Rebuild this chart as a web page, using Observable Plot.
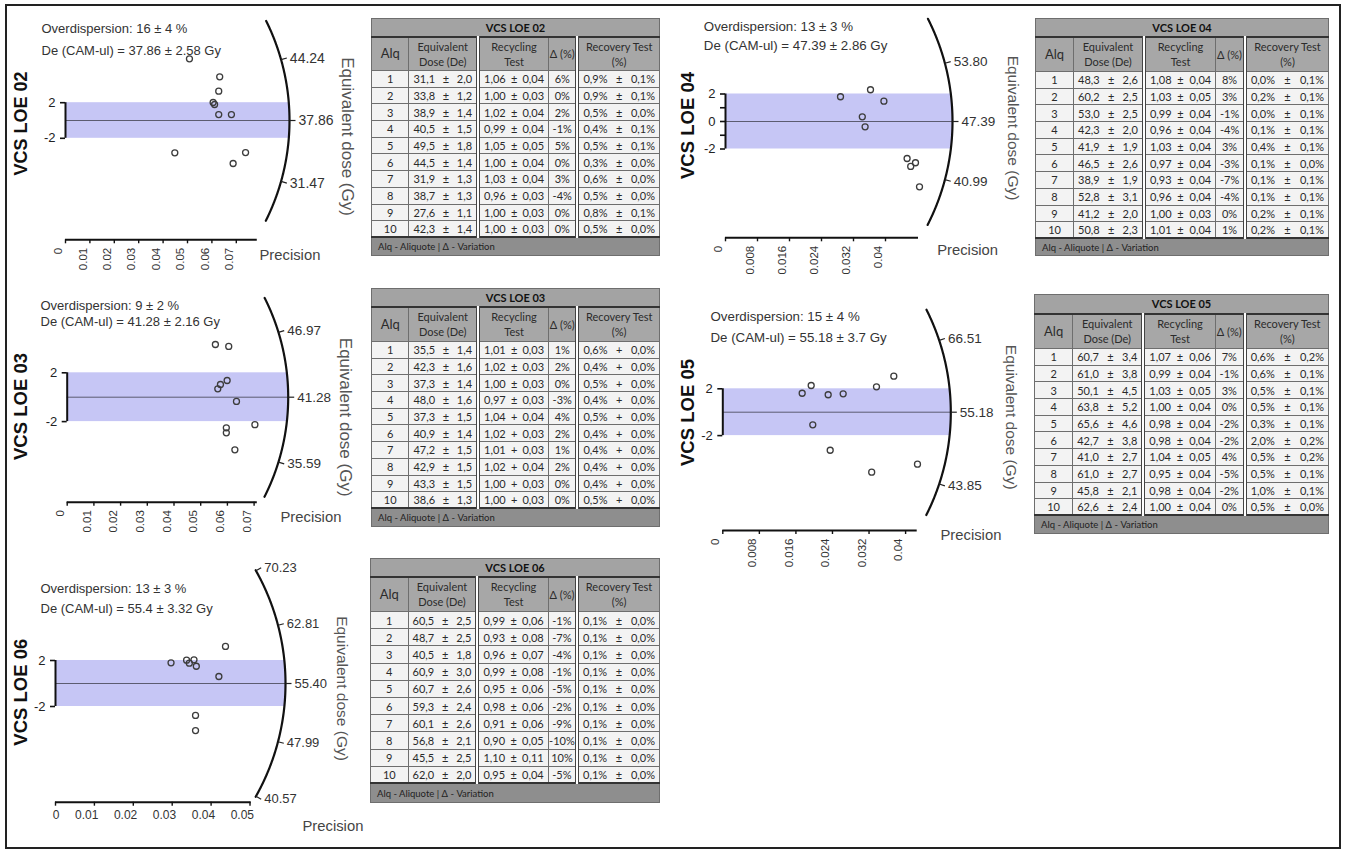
<!DOCTYPE html>
<html><head><meta charset="utf-8">
<script src="https://cdn.jsdelivr.net/npm/d3@7"></script>
<script src="https://cdn.jsdelivr.net/npm/@observablehq/plot@0.6"></script>
<style>
body{margin:0;background:#fff;}
#fig{position:relative;width:1345px;height:857px;overflow:hidden;background:#fff;font-family:"Liberation Sans",Arial,sans-serif;}
.frame{position:absolute;left:5px;top:4px;width:1336px;height:845px;border:2px solid #222;box-sizing:border-box;}
.plotbox{position:absolute;}
.plotbox svg{overflow:visible;}
table.vt{position:absolute;border-collapse:collapse;table-layout:fixed;font-family:Lato,"Open Sans",sans-serif;font-size:11px;color:#2a2a2a;border:1.5px solid #333;}
table.vt td{padding:0 4px;border:1px solid #6e6e6e;overflow:hidden;white-space:nowrap;}
table.vt tr.tt td{background:#a3a3a3;font-weight:bold;text-align:center;border-bottom:2px solid #333;color:#111;}
table.vt tr.hd td{background:#a7a7a7;text-align:center;line-height:15px;color:#2b2b2b;white-space:normal;}
table.vt tr.hd td.alq{font-size:13px;}
table.vt tr.dr td{background:#f3f3f3;}
table.vt tr.dr td.c{text-align:center;}
table.vt tr.ft td{background:#8e8e8e;font-size:9.5px;color:#222;border-top:2px solid #333;padding-left:6px;}
table.vt td.dbl{border-left:4px double #444;}
.cell{display:flex;justify-content:space-between;}
</style>
</head><body>
<div id="fig"><div class="frame"></div></div>
<script>
// ---------------- Radial plot data ----------------
const titles = ["VCS LOE 02", "VCS LOE 03", "VCS LOE 04", "VCS LOE 05", "VCS LOE 06"];
const overdisp = [16, 9, 13, 15, 13];
const overdispErr = [4, 2, 3, 4, 3];
const camDe = [37.86, 41.28, 47.39, 55.18, 55.4];
const camDeErr = [2.58, 2.16, 2.86, 3.7, 3.32];

const arc02 = [44.24, 37.86, 31.47];
const arc03 = [46.97, 41.28, 35.59];
const arc04 = [53.80, 47.39, 40.99];
const arc05 = [66.51, 55.18, 43.85];
const arc06 = [70.23, 62.81, 55.40, 47.99, 40.57];

const xt02 = [0, 0.01, 0.02, 0.03, 0.04, 0.05, 0.06, 0.07];
const xt03 = [0, 0.01, 0.02, 0.03, 0.04, 0.05, 0.06, 0.07];
const xt04 = [0, 0.008, 0.016, 0.024, 0.032, 0.04];
const xt05 = [0, 0.008, 0.016, 0.024, 0.032, 0.04];
const xt06 = [0, 0.01, 0.02, 0.03, 0.04, 0.05];

const zt02 = [2, -2], zt03 = [2, -2], zt04 = [2, 1, 0, -1, -2], zt05 = [2, -2], zt06 = [2, -2];
const zl04 = ["2", "", "0", "", "-2"];

const p02 = [0.0508, 0.0632, 0.0628, 0.0605, 0.0611, 0.0628, 0.0680, 0.0448, 0.0738, 0.0687];
const z02 = [6.93, 4.91, 3.29, 2.02, 1.80, 0.67, 0.67, -3.63, -3.60, -4.83];
const p03 = [0.0555, 0.0605, 0.0599, 0.0574, 0.0564, 0.0634, 0.0596, 0.0596, 0.0628, 0.0703];
const z03 = [4.32, 4.16, 1.37, 1.04, 0.69, -0.35, -2.51, -2.92, -4.31, -2.25];
const p04 = [0.02875, 0.03625, 0.0396, 0.0342, 0.0349, 0.0454, 0.0475, 0.0463, 0.0485];
const z04 = [1.80, 2.31, 1.48, 0.34, -0.39, -2.69, -3.00, -3.27, -4.75];
const p05 = [0.01737, 0.01934, 0.02306, 0.02634, 0.03363, 0.03742, 0.01969, 0.02350, 0.03258, 0.04260];
const z05 = [1.62, 2.28, 1.49, 1.57, 2.17, 3.08, -1.08, -3.25, -5.13, -4.44];
const p06 = [0.0297, 0.0337, 0.0344, 0.0356, 0.0362, 0.0437, 0.0420, 0.0360, 0.0360];
const z06 = [1.80, 2.03, 1.77, 2.06, 1.50, 3.22, 0.61, -2.78, -4.09];

// ---------------- Table data ----------------
const de02 = [31.1, 33.8, 38.9, 40.5, 49.5, 44.5, 31.9, 38.7, 27.6, 42.3];
const deErr02 = [2.0, 1.2, 1.4, 1.5, 1.8, 1.4, 1.3, 1.3, 1.1, 1.4];
const rec02 = [1.06, 1.00, 1.02, 0.99, 1.05, 1.00, 1.03, 0.96, 1.00, 1.00];
const recErr02 = [0.04, 0.03, 0.04, 0.04, 0.05, 0.04, 0.04, 0.03, 0.03, 0.03];
const delta02 = [6, 0, 2, -1, 5, 0, 3, -4, 0, 0];
const rcv02 = [0.9, 0.9, 0.5, 0.4, 0.5, 0.3, 0.6, 0.5, 0.8, 0.5];
const rcvErr02 = [0.1, 0.1, 0.0, 0.1, 0.1, 0.0, 0.0, 0.0, 0.1, 0.0];

const de03 = [35.5, 42.3, 37.3, 48.0, 37.3, 40.9, 47.2, 42.9, 43.3, 38.6];
const deErr03 = [1.4, 1.6, 1.4, 1.6, 1.5, 1.4, 1.5, 1.5, 1.5, 1.3];
const rec03 = [1.01, 1.02, 1.00, 0.97, 1.04, 1.02, 1.01, 1.02, 1.00, 1.00];
const recErr03 = [0.03, 0.03, 0.03, 0.03, 0.04, 0.03, 0.03, 0.04, 0.03, 0.03];
const recSign03 = ["±", "±", "±", "±", "+", "+", "+", "+", "+", "+"];
const delta03 = [1, 2, 0, -3, 4, 2, 1, 2, 0, 0];
const rcv03 = [0.6, 0.4, 0.5, 0.4, 0.5, 0.4, 0.4, 0.4, 0.4, 0.5];
const rcvErr03 = [0.0, 0.0, 0.0, 0.0, 0.0, 0.0, 0.0, 0.0, 0.0, 0.0];
const rcvSign03 = ["+", "+", "+", "+", "+", "+", "+", "+", "+", "+"];

const de04 = [48.3, 60.2, 53.0, 42.3, 41.9, 46.5, 38.9, 52.8, 41.2, 50.8];
const deErr04 = [2.6, 2.5, 2.5, 2.0, 1.9, 2.6, 1.9, 3.1, 2.0, 2.3];
const rec04 = [1.08, 1.03, 0.99, 0.96, 1.03, 0.97, 0.93, 0.96, 1.00, 1.01];
const recErr04 = [0.04, 0.05, 0.04, 0.04, 0.04, 0.04, 0.04, 0.04, 0.03, 0.04];
const delta04 = [8, 3, -1, -4, 3, -3, -7, -4, 0, 1];
const rcv04 = [0.0, 0.2, 0.0, 0.1, 0.4, 0.1, 0.1, 0.1, 0.2, 0.2];
const rcvErr04 = [0.1, 0.1, 0.1, 0.1, 0.1, 0.0, 0.1, 0.1, 0.1, 0.1];

const de05 = [60.7, 61.0, 50.1, 63.8, 65.6, 42.7, 41.0, 61.0, 45.8, 62.6];
const deErr05 = [3.4, 3.8, 4.5, 5.2, 4.6, 3.8, 2.7, 2.7, 2.1, 2.4];
const rec05 = [1.07, 0.99, 1.03, 1.00, 0.98, 0.98, 1.04, 0.95, 0.98, 1.00];
const recErr05 = [0.06, 0.04, 0.05, 0.04, 0.04, 0.04, 0.05, 0.04, 0.04, 0.04];
const delta05 = [7, -1, 3, 0, -2, -2, 4, -5, -2, 0];
const rcv05 = [0.6, 0.6, 0.5, 0.5, 0.3, 2.0, 0.5, 0.5, 1.0, 0.5];
const rcvErr05 = [0.2, 0.1, 0.1, 0.1, 0.1, 0.2, 0.2, 0.1, 0.1, 0.0];

const de06 = [60.5, 48.7, 40.5, 60.9, 60.7, 59.3, 60.1, 56.8, 45.5, 62.0];
const deErr06 = [2.5, 2.5, 1.8, 3.0, 2.6, 2.4, 2.6, 2.1, 2.5, 2.0];
const rec06 = [0.99, 0.93, 0.96, 0.99, 0.95, 0.98, 0.91, 0.90, 1.10, 0.95];
const recErr06 = [0.06, 0.08, 0.07, 0.08, 0.06, 0.06, 0.06, 0.05, 0.11, 0.04];
const delta06 = [-1, -7, -4, -1, -5, -2, -9, -10, 10, -5];
const rcv06 = [0.1, 0.1, 0.1, 0.1, 0.1, 0.1, 0.1, 0.1, 0.1, 0.1];
const rcvErr06 = [0.0, 0.0, 0.0, 0.0, 0.0, 0.0, 0.0, 0.0, 0.0, 0.0];

// ---------------- Layout (pixels) ----------------
const layouts = [
  {left:0, top:0, w:362, h:285, ox:65, oy:120, kx:2440, ky:8.9, axisY:239.3, xEnd:0.0786, R:224, dpg:2.47, arcDeg:26.6, rotX:true,
   title:[21,123], titleFs:18, od:[41,28.3], de:[41,50], odFs:13, eq:[347,136], eqFs:17, prec:[259,255], arcFs:14},
  {left:0, top:285, w:362, h:270, ox:66.7, oy:111.7, kx:2670, ky:12.2, axisY:216.7, xEnd:0.0712, R:221, dpg:3.0, arcDeg:26.8, rotX:true,
   title:[21,121], titleFs:18.5, od:[40,20], de:[40,36.7], odFs:13, eq:[345,131.7], eqFs:17, prec:[280,231.7], arcFs:13.5},
  {left:665, top:0, w:360, h:285, ox:60, oy:121, kx:4000, ky:13.75, axisY:237.3, xEnd:0.04825, R:227, dpg:2.32, arcDeg:27.1, rotX:true,
   title:[23,125], titleFs:18.5, od:[38.3,26], de:[38.3,45], odFs:13.3, eq:[347,127.5], eqFs:15.5, prec:[271.7,250], arcFs:13.5},
  {left:665, top:285, w:360, h:270, ox:57.3, oy:126.7, kx:4570, ky:11.7, axisY:245, xEnd:0.04254, R:228, dpg:1.62, arcDeg:26.8, rotX:true,
   title:[23,127], titleFs:18.5, od:[45,31.7], de:[45,52.7], odFs:13.3, eq:[345,131.7], eqFs:15.5, prec:[275,249.3], arcFs:13.5},
  {left:0, top:555, w:365, h:300, ox:55, oy:128, kx:3890, ky:11.5, axisY:246.7, xEnd:0.0503, R:230, dpg:1.98, arcDeg:29.5, rotX:false,
   title:[21,136.7], titleFs:18.5, od:[40,33.3], de:[40,53.3], odFs:13, eq:[341.7,133], eqFs:15.5, prec:[302,271], arcFs:13}
];

const radialData = [
  {p:p02, z:z02, arc:arc02, xt:xt02, zt:zt02, zl:null},
  {p:p03, z:z03, arc:arc03, xt:xt03, zt:zt03, zl:null},
  {p:p04, z:z04, arc:arc04, xt:xt04, zt:zt04, zl:zl04},
  {p:p05, z:z05, arc:arc05, xt:xt05, zt:zt05, zl:null},
  {p:p06, z:z06, arc:arc06, xt:xt06, zt:zt06, zl:null}
];

function radialPlot(i) {
  const L = layouts[i], D = radialData[i];
  const rad = Math.PI / 180;
  const cam = camDe[i];
  const arcPts = d3.range(-L.arcDeg, L.arcDeg + 1e-9, 0.25).map(a => ({x: L.R*Math.cos(a*rad)/L.kx, y: L.R*Math.sin(a*rad)/L.ky}));
  const tk = D.arc.map(v => {
    const a = L.dpg * (v - cam) * rad;
    return {label: v.toFixed(2),
      x1: L.R*Math.cos(a)/L.kx, y1: L.R*Math.sin(a)/L.ky,
      x2: (L.R+6)*Math.cos(a)/L.kx, y2: (L.R+6)*Math.sin(a)/L.ky};
  });
  const pts = D.p.map((p, j) => ({p, z: D.z[j]}));
  const yAx = (L.oy - L.axisY) / L.ky;
  const tickLen = 4 / L.ky;
  const xr = L.R / L.kx;
  const fmtX = d => String(+d.toFixed(4));
  const zLab = (d, j) => D.zl ? D.zl[j] : String(d);
  const odText = `Overdispersion: ${overdisp[i]} ± ${overdispErr[i]} %`;
  const deText = `De (CAM-ul) = ${camDe[i]} ± ${camDeErr[i]} Gy`;
  const fa = (px, py) => ({frameAnchor: "top-left", dx: px, dy: py});
  const xLabelMark = L.rotX
    ? Plot.text(D.xt, {x: d => d, y: yAx, text: fmtX, rotate: -90, textAnchor: "end", lineAnchor: "middle", dy: 8, dx: -7, fontSize: 11.5, fill: "#333"})
    : Plot.text(D.xt, {x: d => d, y: yAx, text: fmtX, textAnchor: "end", lineAnchor: "top", dy: 8, dx: 4, fontSize: 12, fill: "#333"});
  return Plot.plot({
    width: L.w, height: L.h,
    marginTop: 0, marginLeft: 0, marginRight: 0, marginBottom: 0,
    x: {type: "linear", domain: [0, 1], range: [L.ox, L.ox + L.kx], axis: null},
    y: {type: "linear", domain: [0, 1], range: [L.oy, L.oy - L.ky], axis: null},
    style: {fontFamily: "'Liberation Sans', Arial, sans-serif", fontSize: "13px", background: "transparent", overflow: "visible"},
    marks: [
      Plot.rect([0], {x1: 0, x2: xr, y1: -2, y2: 2, fill: "#c6c6f5"}),
      Plot.ruleY([0], {x1: 0, x2: xr, stroke: "#5c5c70", strokeWidth: 1}),
      Plot.ruleX([0], {y1: -2, y2: 2, stroke: "#111", strokeWidth: 2}),
      Plot.ruleY(D.zt, {x1: 0, x2: -5 / L.kx, stroke: "#111", strokeWidth: 1.6}),
      Plot.text(D.zt, {x: 0, y: d => d, text: zLab, textAnchor: "end", dx: -10, fontSize: 13, fill: "#222"}),
      Plot.line(arcPts, {x: "x", y: "y", stroke: "#111", strokeWidth: 2.2}),
      Plot.link(tk, {x1: "x1", y1: "y1", x2: "x2", y2: "y2", stroke: "#222", strokeWidth: 1.2}),
      Plot.text(tk, {x: "x2", y: "y2", text: "label", textAnchor: "start", dx: 3, fontSize: L.arcFs, fill: "#333"}),
      Plot.dot(pts, {x: "p", y: "z", r: 3, stroke: "#3c3c3c", strokeWidth: 1.3, fill: "none"}),
      Plot.ruleY([yAx], {x1: 0, x2: L.xEnd, stroke: "#111", strokeWidth: 2}),
      Plot.ruleX(D.xt, {y1: yAx, y2: yAx - tickLen, stroke: "#111", strokeWidth: 1.4}),
      xLabelMark,
      Plot.text([odText], {...fa(L.od[0], L.od[1]), text: d => d, textAnchor: "start", lineAnchor: "middle", fontSize: L.odFs, fill: "#333"}),
      Plot.text([deText], {...fa(L.de[0], L.de[1]), text: d => d, textAnchor: "start", lineAnchor: "middle", fontSize: L.odFs, fill: "#333"}),
      Plot.text([titles[i]], {...fa(L.title[0], L.title[1]), text: d => d, rotate: -90, textAnchor: "middle", lineAnchor: "middle", fontSize: L.titleFs, fontWeight: "bold", fill: "#111"}),
      Plot.text(["Equivalent dose (Gy)"], {...fa(L.eq[0], L.eq[1]), text: d => d, rotate: 90, textAnchor: "middle", lineAnchor: "middle", fontSize: L.eqFs, fill: "#555"}),
      Plot.text(["Precision"], {...fa(L.prec[0], L.prec[1]), text: d => d, textAnchor: "start", lineAnchor: "middle", fontSize: 14.8, fill: "#444"})
    ]
  });
}

const fig = document.getElementById("fig");
layouts.forEach((L, i) => {
  const box = document.createElement("div");
  box.className = "plotbox";
  box.style.left = L.left + "px";
  box.style.top = L.top + "px";
  box.appendChild(radialPlot(i));
  fig.appendChild(box);
});

// ---------------- Tables ----------------
const tables = [
  {name: "VCS LOE 02", de: de02, deErr: deErr02, rec: rec02, recErr: recErr02, delta: delta02, rcv: rcv02, rcvErr: rcvErr02,
   pos: {left: 371, top: 18, w: 289, titleH: 18, headH: 34, rowH: 16.7, footH: 18}},
  {name: "VCS LOE 03", de: de03, deErr: deErr03, rec: rec03, recErr: recErr03, recSign: recSign03, delta: delta03, rcv: rcv03, rcvErr: rcvErr03, rcvSign: rcvSign03,
   pos: {left: 371, top: 288, w: 289, titleH: 18, headH: 35, rowH: 16.7, footH: 18}},
  {name: "VCS LOE 04", de: de04, deErr: deErr04, rec: rec04, recErr: recErr04, delta: delta04, rcv: rcv04, rcvErr: rcvErr04,
   pos: {left: 1035, top: 18, w: 294, titleH: 18, headH: 35, rowH: 16.7, footH: 17}},
  {name: "VCS LOE 05", de: de05, deErr: deErr05, rec: rec05, recErr: recErr05, delta: delta05, rcv: rcv05, rcvErr: rcvErr05,
   pos: {left: 1034, top: 294, w: 295, titleH: 19, headH: 35, rowH: 16.7, footH: 18}},
  {name: "VCS LOE 06", de: de06, deErr: deErr06, rec: rec06, recErr: recErr06, delta: delta06, rcv: rcv06, rcvErr: rcvErr06,
   pos: {left: 370, top: 558, w: 290, titleH: 18, headH: 35, rowH: 17.2, footH: 19}}
];

const c1 = v => v.toFixed(1).replace(".", ",");
const c2 = v => v.toFixed(2).replace(".", ",");
const trio = (a, s, b) => `<div class="cell"><span>${a}</span><span>${s}</span><span>${b}</span></div>`;

tables.forEach(T => {
  const P = T.pos;
  const t = document.createElement("table");
  t.className = "vt";
  t.style.left = P.left + "px";
  t.style.top = P.top + "px";
  t.style.width = P.w + "px";
  let h = `<colgroup><col style="width:13%"><col style="width:24%"><col style="width:24.5%"><col style="width:10%"><col style="width:28.5%"></colgroup>`;
  h += `<tr class="tt" style="height:${P.titleH}px"><td colspan="5">${T.name}</td></tr>`;
  h += `<tr class="hd" style="height:${P.headH}px"><td class="alq">Alq</td><td>Equivalent<br>Dose (De)</td><td class="dbl">Recycling<br>Test</td><td style="padding:0">Δ (%)</td><td class="dbl">Recovery Test<br>(%)</td></tr>`;
  T.de.forEach((v, j) => {
    const rs = T.recSign ? T.recSign[j] : "±";
    const vs = T.rcvSign ? T.rcvSign[j] : "±";
    h += `<tr class="dr" style="height:${P.rowH}px">` +
      `<td class="c">${j + 1}</td>` +
      `<td>${trio(c1(v), "±", c1(T.deErr[j]))}</td>` +
      `<td class="dbl">${trio(c2(T.rec[j]), rs, c2(T.recErr[j]))}</td>` +
      `<td class="c" style="padding:0">${T.delta[j]}%</td>` +
      `<td class="dbl">${trio(c1(T.rcv[j]) + "%", vs, c1(T.rcvErr[j]) + "%")}</td></tr>`;
  });
  h += `<tr class="ft" style="height:${P.footH}px"><td colspan="5">Alq - Aliquote | Δ - Variation</td></tr>`;
  t.innerHTML = h;
  fig.appendChild(t);
});
</script>
</body></html>
